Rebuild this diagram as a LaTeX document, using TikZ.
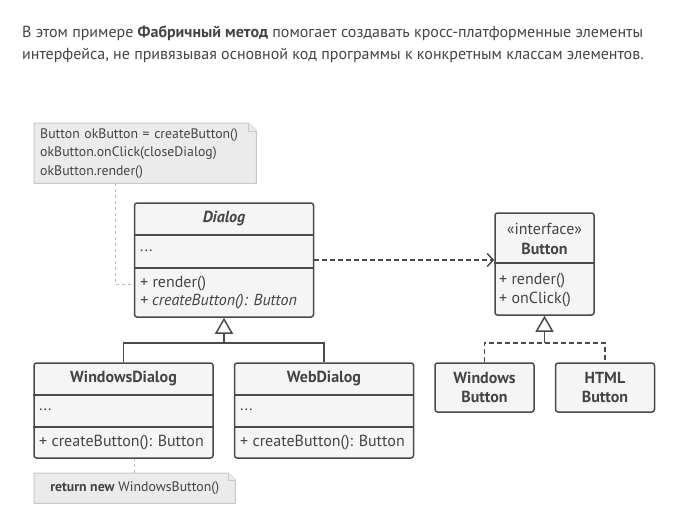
\documentclass[tikz,border=0pt]{standalone}
\usepackage{fontspec}
\setmainfont{PT Sans}
\usetikzlibrary{arrows.meta,calc,positioning,backgrounds}
\definecolor{txtgray}{HTML}{444444}
\definecolor{boxfill}{HTML}{F5F5F5}
\definecolor{boxline}{HTML}{4A4A4A}
\definecolor{notefill}{HTML}{EBEBEB}
\definecolor{noteline}{HTML}{C8C8C8}
\definecolor{dotline}{HTML}{BBBBBB}
\tikzset{
	classbox/.style={draw=boxline, fill=boxfill, line width=1.5pt, rounded corners=2.5pt, inner sep=0pt},
	divider/.style={draw=boxline, line width=1.5pt},
	member/.style={anchor=west, inner sep=0pt, font=\fontsize{16}{18}\selectfont, text=txtgray},
	title/.style={inner sep=0pt, font=\fontsize{16}{18}\selectfont\bfseries, text=txtgray},
	notebox/.style={draw=noteline, fill=notefill, line width=1pt},
	notelink/.style={draw=dotline, line width=1pt, dash pattern=on 3pt off 3pt},
	depend/.style={draw=boxline, line width=1.5pt, dash pattern=on 5pt off 3pt, -{Straight Barb[length=6pt,width=13pt]}},
	inherit/.style={draw=boxline, line width=1.5pt},
	realize/.style={draw=boxline, line width=1.5pt, dash pattern=on 5pt off 3pt},
	hollow/.style={-{Triangle[open, length=16pt, width=18pt, fill=white]}}
}
\begin{document}
\begin{tikzpicture}[x=1pt, y=-1pt]
	\useasboundingbox (0,0) rectangle (699,511);
	% intro text
	\node[anchor=west, inner sep=0pt, text=txtgray, font=\fontsize{16}{18}\selectfont] (intro1) at (22,33)
		{В этом примере \textbf{Фабричный метод} помогает создавать кросс-платформенные элементы};
	\node[anchor=west, inner sep=0pt, text=txtgray, font=\fontsize{16}{18}\selectfont] (intro2) at (22,55)
		{интерфейса, не привязывая основной код программы к конкретным классам элементов.};

	% note on Dialog
	\node[anchor=north west, text width=210pt, inner xsep=6pt, inner ysep=0pt, minimum height=60pt, align=left,
		text=txtgray, font=\fontsize{13.8}{18.5}\selectfont] (note1) at (34,123)
		{Button okButton = createButton()\\okButton.onClick(closeDialog)\\okButton.render()};

	% Dialog
	\node[classbox, minimum width=179pt, minimum height=114pt] (dialog) at (224,260) {};
	\draw[divider] (dialog.west |- 0,235) -- (dialog.east |- 0,235);
	\draw[divider] (dialog.west |- 0,268) -- (dialog.east |- 0,268);
	\node[title, font=\fontsize{16}{18}\selectfont\bfseries\itshape] (dialogname) at (224,219) {Dialog};
	\node[member] (dialogattr) at (140,251) {...};
	\node[member] (dialogm1) at (140,284) {+ render()};
	\node[member, font=\fontsize{16}{18}\selectfont\itshape] (dialogm2) at (140,302) {+ createButton(): Button};

	% Button
	\node[classbox, minimum width=99pt, minimum height=102pt] (button) at (544.5,264) {};
	\draw[divider] (button.west |- 0,263) -- (button.east |- 0,263);
	\node[title, font=\fontsize{16}{18}\selectfont] (buttonstereo) at (544.5,229) {«interface»};
	\node[title] (buttonname) at (544.5,249) {Button};
	\node[member] (buttonm1) at (499,281) {+ render()};
	\node[member] (buttonm2) at (499,300) {+ onClick()};

	% WindowsDialog
	\node[classbox, minimum width=179pt, minimum height=95pt] (wdialog) at (123.5,410.5) {};
	\draw[divider] (wdialog.west |- 0,395) -- (wdialog.east |- 0,395);
	\draw[divider] (wdialog.west |- 0,427) -- (wdialog.east |- 0,427);
	\node[title] (wdialogname) at (123.5,379) {WindowsDialog};
	\node[member] (wdialogattr) at (39,410) {...};
	\node[member] (wdialogm1) at (39,443) {+ createButton(): Button};

	% WebDialog
	\node[classbox, minimum width=179pt, minimum height=95pt] (webdialog) at (324,410.5) {};
	\draw[divider] (webdialog.west |- 0,395) -- (webdialog.east |- 0,395);
	\draw[divider] (webdialog.west |- 0,427) -- (webdialog.east |- 0,427);
	\node[title] (webdialogname) at (324,379) {WebDialog};
	\node[member] (webdialogattr) at (240,410) {...};
	\node[member] (webdialogm1) at (240,443) {+ createButton(): Button};

	% concrete buttons
	\node[classbox, minimum width=99pt, minimum height=49pt] (winbtn) at (484.5,387.5) {};
	\node[title, align=center, font=\fontsize{16}{19.5}\selectfont\bfseries] (winbtnname) at (winbtn) {Windows\\Button};
	\node[classbox, minimum width=99pt, minimum height=49pt] (htmlbtn) at (605,387.5) {};
	\node[title, align=center, font=\fontsize{16}{19.5}\selectfont\bfseries] (htmlbtnname) at (htmlbtn) {HTML\\Button};

	% note on WindowsDialog
	\node[anchor=north west, minimum width=201pt, minimum height=30pt, inner sep=0pt,
		text=txtgray, font=\fontsize{13.8}{15}\selectfont] (note2) at (34,473)
		{\textbf{return new} WindowsButton()};

	% note outlines
	\begin{scope}[on background layer]
		\draw[notebox] (note1.north west) -- ($(note1.north east)+(-8,0)$) -- ($(note1.north east)+(0,8)$)
			-- (note1.south east) -- (note1.south west) -- cycle;
		\draw[notebox] ($(note1.north east)+(-8,0)$) |- ($(note1.north east)+(0,8)$);
		\draw[notebox] (note2.north west) -- ($(note2.north east)+(-7,0)$) -- ($(note2.north east)+(0,7)$)
			-- (note2.south east) -- (note2.south west) -- cycle;
		\draw[notebox] ($(note2.north east)+(-7,0)$) |- ($(note2.north east)+(0,7)$);
	\end{scope}

	% connectors
	\draw[notelink] ($(note1.south west)+(81,0)$) |- (dialog.west |- dialogm1.west);
	\draw[notelink] (note2.north) -- (note2.north |- wdialog.south);
	\draw[depend] (dialog.east) -- (dialog.east -| button.west);

	\coordinate (dlgjoin) at (224,343);
	\coordinate (btnjoin) at (544.5,343);
	\draw[inherit] (wdialog.north) |- (dlgjoin) -| (webdialog.north);
	\draw[inherit, hollow] (dlgjoin) -- (dialog.south);
	\draw[realize] (winbtn.north) |- (btnjoin) -| (htmlbtn.north);
	\draw[inherit, hollow] (btnjoin) -- (button.south);
\end{tikzpicture}
\end{document}
